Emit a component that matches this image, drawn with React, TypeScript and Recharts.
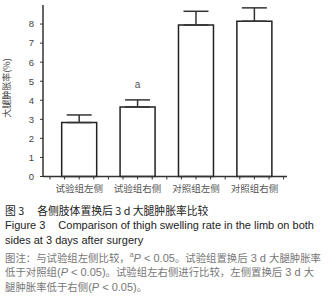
import { BarChart, Bar, XAxis, YAxis, ErrorBar, LabelList } from 'recharts';

// swelling rate (%) of the thigh 3 d after replacement
const groups = ['试验组左侧', '试验组右侧', '对照组左侧', '对照组右侧'];
const swellingRate = [2.83, 3.65, 7.95, 8.15];
const swellingSd = [0.4, 0.37, 0.72, 0.7];
const marks = ['', 'a', '', ''];

const yTicks = [0, 1, 2, 3, 4, 5, 6, 7, 8];
// minor tick marks along the x axis, in category units (band = 1)
const xMinorTicks = [0, 0.25, 0.5, 0.75, 1, 1.25, 1.5, 1.75, 2, 2.25, 2.5, 2.75, 3, 3.25, 3.5, 3.75, 4];
const groupCenters = [0.5, 1.5, 2.5, 3.5];

const data = groups.map((g, i) => ({
  group: g,
  rate: swellingRate[i],
  err: [0, swellingSd[i]],
  mark: marks[i],
}));

const axisColor = '#333';
const sans = '"Liberation Sans", Arial, "Noto Sans CJK SC", sans-serif';
const cjk = '"Noto Sans CJK SC", "Liberation Sans", sans-serif';

function centerLabel(v: number) {
  const i = groupCenters.indexOf(v);
  return i >= 0 ? groups[i] : '';
}

const slotOf = (d: { group: string }) => groups.indexOf(d.group) + 0.5;

const noteCjk = { fontFamily: cjk, fontSize: 10.4 };

export default function App() {
  return (
    <div
      style={{
        position: 'absolute',
        left: 0,
        top: 0,
        width: 330,
        height: 300,
        background: '#fff',
        overflow: 'hidden',
      }}
    >
      <BarChart
        width={330}
        height={200}
        data={data}
        margin={{ top: 5, right: 43, bottom: 0, left: 0 }}
        barCategoryGap="20%"
      >
        <XAxis
          xAxisId="minor"
          type="number"
          dataKey={slotOf}
          domain={[0, 4]}
          allowDataOverflow
          ticks={xMinorTicks}
          interval={0}
          padding={{ left: 7, right: 3.4 }}
          height={23.5}
          tickSize={3}
          tickMargin={5.5}
          tickFormatter={centerLabel}
          tick={{ fontSize: 9.5, fill: '#555', fontFamily: cjk }}
          tickLine={{ stroke: axisColor, strokeWidth: 1 }}
          axisLine={{ stroke: axisColor, strokeWidth: 1.5 }}
        />
        <XAxis xAxisId="cat" dataKey="group" hide height={0} padding={{ left: 7, right: 3.4 }} />
        <YAxis
          domain={[0, 9]}
          ticks={yTicks}
          interval={0}
          width={43}
          tickSize={3}
          tickMargin={6}
          tick={{ fontSize: 9.5, fill: '#444', fontFamily: sans }}
          tickLine={{ stroke: axisColor, strokeWidth: 1 }}
          axisLine={{ stroke: axisColor, strokeWidth: 1.5 }}
        />
        <Bar
          xAxisId="cat"
          dataKey="rate"
          fill="#fff"
          stroke="#222"
          strokeWidth={1.5}
          isAnimationActive={false}
        >
          <ErrorBar dataKey="err" direction="y" width={12.5} stroke="#333" strokeWidth={1.5} />
          <LabelList dataKey="mark" position="top" offset={19} fill="#555" fontSize={10} fontFamily={sans} />
        </Bar>
      </BarChart>

      <div
        style={{
          position: 'absolute',
          left: 7,
          top: 88,
          width: 0,
          height: 0,
        }}
      >
        <div
          style={{
            position: 'absolute',
            left: 0,
            top: 0,
            transform: 'translate(-50%, -50%) rotate(-90deg)',
            whiteSpace: 'nowrap',
            fontSize: 9,
            lineHeight: '10px',
            color: '#444',
            fontFamily: cjk,
          }}
        >
          大腿肿胀率(%)
        </div>
      </div>

      <div
        style={{
          position: 'absolute',
          left: 5,
          top: 203.3,
          fontSize: 11,
          lineHeight: '14.8px',
          whiteSpace: 'nowrap',
          fontFamily: sans,
        }}
      >
        <div style={{ color: '#222', fontFamily: cjk, fontSize: 10.8 }}>
          图 3<span style={{ display: 'inline-block', width: 13 }} />各侧肢体置换后 3 d 大腿肿胀率比较
        </div>
        <div style={{ color: '#222' }}>
          Figure 3<span style={{ display: 'inline-block', width: 13 }} />Comparison of thigh swelling rate in the limb on both
        </div>
        <div style={{ color: '#222' }}>sides at 3 days after surgery</div>
        <div style={{ color: '#777' }}>
          <span style={noteCjk}>图注：与试验组左侧比较，</span>
          <sup style={{ fontSize: 7 }}>a</sup>
          <i>P</i> &lt; 0.05<span style={noteCjk}>。试验组置换后</span> 3 d{' '}
          <span style={noteCjk}>大腿肿胀率</span>
        </div>
        <div style={{ color: '#777' }}>
          <span style={noteCjk}>低于对照组</span>(<i>P</i> &lt; 0.05)
          <span style={noteCjk}>。试验组左右侧进行比较，左侧置换后</span> 3 d{' '}
          <span style={noteCjk}>大</span>
        </div>
        <div style={{ color: '#777' }}>
          <span style={noteCjk}>腿肿胀率低于右侧</span>(<i>P</i> &lt; 0.05)
          <span style={noteCjk}>。</span>
        </div>
      </div>
    </div>
  );
}
